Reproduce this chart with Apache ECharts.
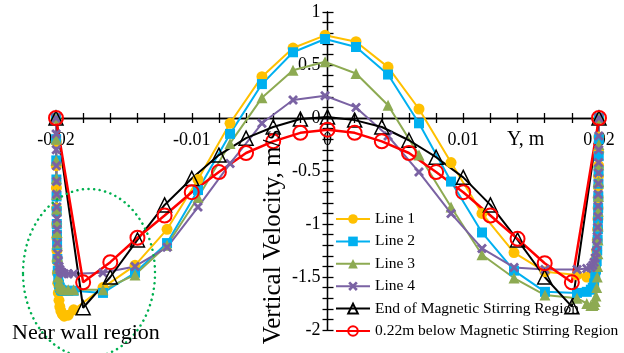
<!DOCTYPE html>
<html><head><meta charset="utf-8">
<script src="https://cdn.jsdelivr.net/npm/echarts@6/dist/echarts.min.js"></script>
<style>html,body{margin:0;padding:0;background:#fff}#c{width:624px;height:353px}</style>
</head><body><div id="c"></div>
<script>
// x positions (m) of Lines 1-4 (dense near the walls)
const xFine = [-0.02, -0.01999, -0.01998, -0.01997, -0.01996, -0.01995, -0.01994, -0.01993, -0.01992, -0.0199, -0.01987, -0.01983, -0.01978, -0.01972, -0.01964, -0.01954, -0.0194, -0.0191, -0.0187,
  -0.01654, -0.01418, -0.01182, -0.00954, -0.00718, -0.00483, -0.00254, -0.00018, 0.0021, 0.00446, 0.00674, 0.0091, 0.01138, 0.01374, 0.01602, 0.01838,
  0.0191, 0.0194, 0.01954, 0.01964, 0.01972, 0.01978, 0.01983, 0.01987, 0.0199, 0.01992, 0.01993, 0.01994, 0.01995, 0.01996, 0.01997, 0.01998, 0.01999, 0.02];
const line1 = [0, -0.22, -0.45, -0.66, -0.85, -1.0, -1.13, -1.25, -1.35, -1.46, -1.56, -1.65, -1.72, -1.78, -1.82, -1.85, -1.87, -1.86, -1.81,
  -1.60, -1.39, -1.05, -0.58, -0.05, 0.39, 0.66, 0.78, 0.72, 0.48, 0.085, -0.42, -0.90, -1.27, -1.45, -1.48,
  -1.5, -1.5, -1.48, -1.45, -1.4, -1.33, -1.25, -1.15, -1.05, -0.95, -0.85, -0.75, -0.65, -0.55, -0.45, -0.32, -0.18, 0];
const line2 = [0, -0.2, -0.4, -0.58, -0.74, -0.88, -1.0, -1.1, -1.2, -1.33, -1.44, -1.52, -1.57, -1.6, -1.62, -1.63, -1.63, -1.63, -1.63,
  -1.65, -1.46, -1.18, -0.68, -0.15, 0.32, 0.62, 0.745, 0.67, 0.41, -0.05, -0.60, -1.08, -1.44, -1.64, -1.65,
  -1.64, -1.62, -1.6, -1.56, -1.5, -1.43, -1.35, -1.25, -1.15, -1.05, -0.95, -0.85, -0.74, -0.62, -0.5, -0.36, -0.2, 0];
const line3 = [0, -0.2, -0.4, -0.57, -0.72, -0.86, -0.98, -1.08, -1.18, -1.31, -1.42, -1.5, -1.55, -1.58, -1.6, -1.61, -1.62, -1.62, -1.62,
  -1.62, -1.48, -1.2, -0.75, -0.24, 0.19, 0.45, 0.53, 0.42, 0.12, -0.35, -0.84, -1.29, -1.51, -1.67, -1.70,
  -1.75, -1.77, -1.77, -1.76, -1.73, -1.68, -1.6, -1.5, -1.4, -1.28, -1.15, -1.02, -0.88, -0.74, -0.6, -0.44, -0.25, 0];
const line4 = [0, -0.15, -0.3, -0.45, -0.6, -0.72, -0.84, -0.95, -1.05, -1.18, -1.28, -1.35, -1.4, -1.43, -1.45, -1.46, -1.47, -1.47, -1.47,
  -1.46, -1.40, -1.22, -0.84, -0.43, -0.05, 0.17, 0.21, 0.10, -0.17, -0.51, -0.90, -1.23, -1.41, -1.43, -1.43,
  -1.42, -1.41, -1.39, -1.36, -1.32, -1.27, -1.2, -1.12, -1.03, -0.93, -0.83, -0.72, -0.62, -0.52, -0.42, -0.3, -0.17, 0];
// x positions (m) of the two coarse profiles
const xCoarse = [-0.02, -0.018, -0.016, -0.014, -0.012, -0.01, -0.008, -0.006, -0.004, -0.002, 0, 0.002, 0.004, 0.006, 0.008, 0.01, 0.012, 0.014, 0.016, 0.018, 0.02];
const endMSR = [0, -1.79, -1.50, -1.15, -0.82, -0.57, -0.35, -0.19, -0.085, -0.01, 0.01, -0.02, -0.085, -0.21, -0.37, -0.56, -0.82, -1.15, -1.50, -1.78, 0];
const below022 = [0, -1.55, -1.36, -1.13, -0.92, -0.70, -0.51, -0.33, -0.22, -0.14, -0.11, -0.14, -0.22, -0.33, -0.51, -0.70, -0.92, -1.14, -1.37, -1.55, 0];
const seriesNames = ['Line 1', 'Line 2', 'Line 3', 'Line 4', 'End of Magnetic Stirring Region', '0.22m below Magnetic Stirring Region'];
const xTickLabels = [-0.02, -0.01, 0, 0.01, 0.02];
const yTickLabels = [-2, -1.5, -1, -0.5, 0, 0.5, 1];

const FONT = '"Liberation Serif", "Times New Roman", serif';
const chart = echarts.init(document.getElementById('c'), null, {renderer: 'canvas'});
const G = {left: 56, right: 25, top: 12, bottom: 23};
const W = 624 - G.left - G.right, H = 353 - G.top - G.bottom;
const XMIN = -0.02, XMAX = 0.02, YMIN = -2, YMAX = 1;
// place the axes where the other axis is zero (axes cross at the origin)
const yZeroFromBottom = H * (0 - YMIN) / (YMAX - YMIN);
const xZeroFromLeft = W * (0 - XMIN) / (XMAX - XMIN);

const axLine = {color: '#000', width: 1.3};
const pair = (xs, ys) => xs.map((x, i) => [x, ys[i]]);
const fmt = list => v => { const r = Math.round(v * 1000) / 1000; return list.some(t => Math.abs(t - r) < 1e-9) ? String(r) : ''; };
const xBase = {type: 'value', min: XMIN, max: XMAX, interval: 0.002, splitLine: {show: false}};
const yBase = {type: 'value', min: YMIN, max: YMAX, interval: 0.1, splitLine: {show: false}};
const crossMark = 'path://M2,0 L5,3 L8,0 L10,2 L7,5 L10,8 L8,10 L5,7 L2,10 L0,8 L3,5 L0,2 Z';

function mk(name, xs, ys, color, symbol, size, lw, hollow) {
  return {
    name, type: 'line', data: pair(xs, ys), xAxisIndex: 0, yAxisIndex: 0,
    symbol, symbolSize: size, showAllSymbol: true, smooth: false,
    lineStyle: {color, width: lw},
    itemStyle: hollow ? {color: 'rgba(255,255,255,0)', borderColor: color, borderWidth: hollow} : {color},
    emphasis: {disabled: true}
  };
}

chart.setOption({
  animation: false,
  backgroundColor: '#fff',
  grid: Object.assign({containLabel: false}, G),
  xAxis: [
    Object.assign({}, xBase, {
      position: 'bottom', offset: -yZeroFromBottom,
      axisLine: {onZero: false, lineStyle: axLine},
      axisTick: {show: true, inside: false, length: 5, lineStyle: axLine},
      axisLabel: {formatter: fmt(xTickLabels), margin: 13, color: '#000', fontFamily: FONT, fontSize: 18, interval: 0}
    }),
    Object.assign({}, xBase, {
      position: 'top', offset: -(H - yZeroFromBottom),
      axisLine: {show: true, onZero: false, lineStyle: axLine},
      axisTick: {show: true, inside: false, length: 5, lineStyle: axLine},
      axisLabel: {show: false}
    })
  ],
  yAxis: [
    Object.assign({}, yBase, {
      position: 'left', offset: -xZeroFromLeft,
      axisLine: {onZero: false, lineStyle: axLine},
      axisTick: {show: true, inside: false, length: 5, lineStyle: axLine},
      axisLabel: {formatter: fmt(yTickLabels), margin: 7, color: '#000', fontFamily: FONT, fontSize: 18, interval: 0}
    }),
    Object.assign({}, yBase, {
      position: 'right', offset: -(W - xZeroFromLeft),
      axisLine: {show: true, onZero: false, lineStyle: axLine},
      axisTick: {show: true, inside: false, length: 6, lineStyle: axLine},
      axisLabel: {show: false}
    })
  ],
  legend: {
    orient: 'vertical', left: 330, top: 205, itemWidth: 34, itemHeight: 12, itemGap: 4.4,
    textStyle: {fontFamily: FONT, fontSize: 15.5, color: '#000', lineHeight: 18},
    data: seriesNames
  },
  series: [
    mk(seriesNames[0], xFine, line1, '#FFC000', 'circle', 11, 2),
    mk(seriesNames[1], xFine, line2, '#00B0F0', 'rect', 10, 2),
    mk(seriesNames[2], xFine, line3, '#8DAA52', 'triangle', 11, 2),
    mk(seriesNames[3], xFine, line4, '#7A62A3', crossMark, 10, 2),
    mk(seriesNames[4], xCoarse, endMSR, '#000000', 'triangle', 14, 2, 1.5),
    mk(seriesNames[5], xCoarse, below022, '#FF0000', 'circle', 14, 2.5, 2)
  ],
  graphic: [
    {type: 'ellipse', shape: {cx: 89, cy: 273, rx: 66, ry: 84}, z: 10,
      style: {fill: 'none', stroke: '#00B050', lineWidth: 2.5, lineDash: [0.1, 5.5], lineCap: 'round'}},
    {type: 'text', x: 12, y: 333, z: 10,
      style: {text: 'Near wall region', font: '22px ' + FONT, fill: '#000', textAlign: 'left', textVerticalAlign: 'middle'}},
    {type: 'text', x: 507, y: 140, z: 10,
      style: {text: 'Y, m', font: '20px ' + FONT, fill: '#000', textAlign: 'left', textVerticalAlign: 'middle'}},
    {type: 'text', x: 273, y: 237, rotation: Math.PI / 2, z: 10,
      style: {text: 'Vertical Velocity, m/s', font: '25px ' + FONT, fill: '#000', textAlign: 'center', textVerticalAlign: 'middle'}}
  ]
});
</script></body></html>
